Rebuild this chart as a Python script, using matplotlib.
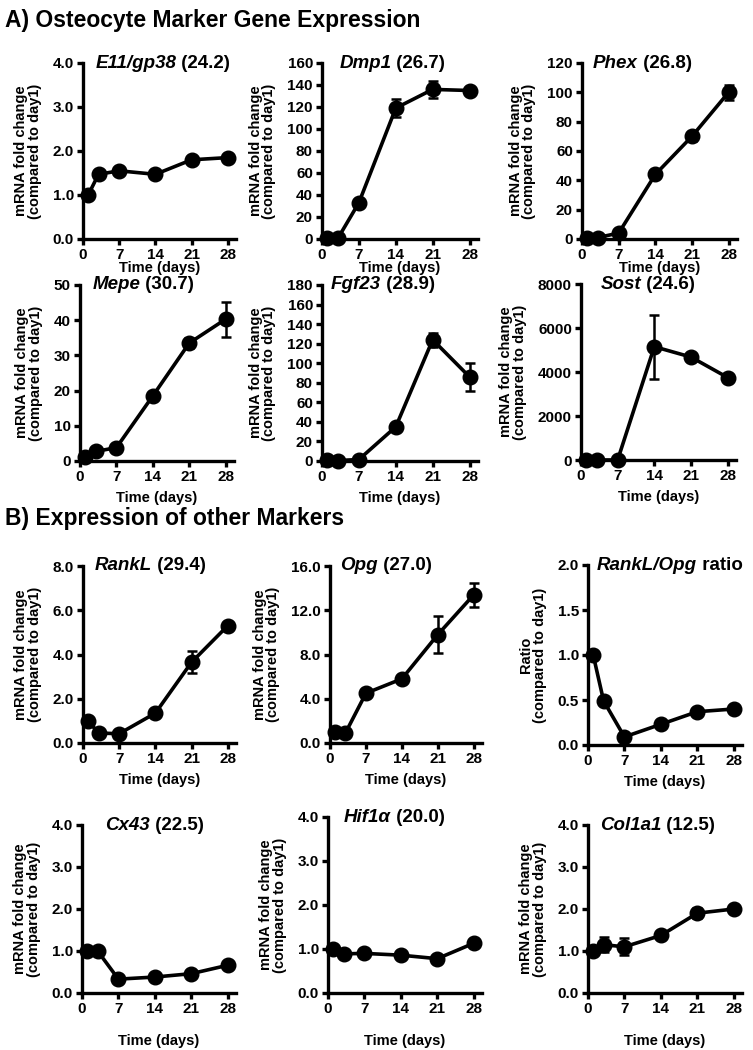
import matplotlib
matplotlib.use("Agg")
import matplotlib.pyplot as plt
from matplotlib.ticker import FormatStrFormatter

plt.rcParams["font.family"] = "Liberation Sans"
plt.rcParams["font.weight"] = "bold"

days = [1, 3, 7, 14, 21, 28]

# A) osteocyte markers
e11 = [1.0, 1.47, 1.55, 1.47, 1.8, 1.85]
e11_err = [0, 0, 0, 0, 0, 0]
dmp1 = [1, 0.5, 33, 119, 136, 135]
dmp1_err = [0, 0, 0, 8, 8, 0]
phex = [1, 1, 4, 44, 70, 100]
phex_err = [0, 0, 0, 0, 3, 5]
mepe = [1, 2.7, 3.8, 18.5, 33.5, 40.3]
mepe_err = [0, 0, 0, 0, 1.5, 5.0]
fgf23 = [1, 0.5, 1.5, 35, 124, 86]
fgf23_err = [0, 0, 0, 0, 7, 14]
sost = [1, 1, 2, 5150, 4680, 3750]
sost_err = [0, 0, 0, 1450, 0, 0]

# B) other markers
rankl = [1.0, 0.45, 0.42, 1.35, 3.65, 5.3]
rankl_err = [0, 0, 0, 0, 0.5, 0]
opg = [1.0, 0.9, 4.5, 5.8, 9.8, 13.4]
opg_err = [0, 0, 0, 0, 1.7, 1.1]
ratio = [1.0, 0.49, 0.09, 0.23, 0.37, 0.40]
ratio_err = [0, 0, 0, 0, 0, 0]
cx43 = [1.0, 1.0, 0.33, 0.38, 0.46, 0.66]
cx43_err = [0, 0, 0, 0, 0, 0]
hif1a = [1.0, 0.89, 0.9, 0.86, 0.78, 1.13]
hif1a_err = [0, 0, 0, 0, 0, 0]
col1a1 = [1.0, 1.15, 1.1, 1.37, 1.9, 2.0]
col1a1_err = [0, 0.18, 0.2, 0, 0.12, 0]

genes = ["E11/gp38", "Dmp1", "Phex", "Mepe", "Fgf23", "Sost",
         "RankL", "Opg", "RankL/Opg", "Cx43", "Hif1α", "Col1a1"]
suffixes = ["(24.2)", "(26.7)", "(26.8)", "(30.7)", "(28.9)", "(24.6)",
            "(29.4)", "(27.0)", "ratio", "(22.5)", "(20.0)", "(12.5)"]
values = [e11, dmp1, phex, mepe, fgf23, sost, rankl, opg, ratio, cx43, hif1a, col1a1]
errors = [e11_err, dmp1_err, phex_err, mepe_err, fgf23_err, sost_err,
          rankl_err, opg_err, ratio_err, cx43_err, hif1a_err, col1a1_err]
ymax = [4, 160, 120, 50, 180, 8000, 8, 16, 2, 4, 4, 4]
ystep = [1, 20, 20, 10, 20, 2000, 2, 4, 0.5, 1, 1, 1]
yfmt = ["%.1f", "%d", "%d", "%d", "%d", "%d", "%.1f", "%.1f", "%.1f", "%.1f", "%.1f", "%.1f"]
ylabels = ["mRNA fold change\n(compared to day1)"] * 12
ylabels[8] = "Ratio\n(compared to day1)"

# axes boxes in pixels: left, top, right, bottom
W, H = 753, 1050
boxes = [(83, 63, 236, 239), (322, 63, 478, 239), (582, 63, 737, 239),
         (80, 285, 234, 461), (322, 285, 478, 461), (581, 284, 736, 460),
         (83, 566, 236, 743), (330, 566, 482, 743), (588, 565, 742, 745),
         (82, 825, 236, 993), (328, 817, 482, 993), (588, 825, 742, 993)]
title_x = [0.52, 0.45, 0.39, 0.41, 0.39, 0.43, 0.44, 0.37, 0.53, 0.47, 0.43, 0.45]
xlabel_pad = [-1, -1, -1, 5, 5, 5, 5, 5, 5, 13, 13, 13]

fig = plt.figure(figsize=(W / 100, H / 100), dpi=100)
renderer = fig.canvas.get_renderer()

for i in range(12):
    l, t, r, b = boxes[i]
    ax = fig.add_axes([l / W, 1 - b / H, (r - l) / W, (b - t) / H])
    ax.errorbar(days, values[i], yerr=errors[i], color="black", lw=2.6,
                marker="o", ms=10.5, capsize=3.5, elinewidth=1.8, capthick=1.8,
                clip_on=False, zorder=5)
    ax.set_xlim(0, 29.6)
    ax.set_ylim(0, ymax[i])
    ax.set_xticks([0, 7, 14, 21, 28])
    n = int(round(ymax[i] / ystep[i]))
    ax.set_yticks([k * ystep[i] for k in range(n + 1)])
    ax.yaxis.set_major_formatter(FormatStrFormatter(yfmt[i]))
    for s in ["top", "right"]:
        ax.spines[s].set_visible(False)
    for s in ["left", "bottom"]:
        ax.spines[s].set_linewidth(2.4)
    ax.tick_params(direction="out", length=4, width=2.4, labelsize=11, pad=2.5)
    ax.set_xlabel("Time (days)", fontsize=10.5, fontweight="bold", labelpad=xlabel_pad[i])
    ax.set_ylabel(ylabels[i], fontsize=10.5, fontweight="bold", labelpad=8, linespacing=0.95)

    # title: italic gene name followed by upright Ct value
    t1 = ax.text(0, 1.0, genes[i], transform=ax.transAxes, ha="left", va="center",
                 fontsize=13.5, fontweight="bold", style="italic")
    t2 = ax.annotate(" " + suffixes[i], xy=(1, 0), xycoords=t1, ha="left", va="bottom",
                     fontsize=13.5, fontweight="bold")
    w = t1.get_window_extent(renderer).width + t2.get_window_extent(renderer).width
    t1.set_x(title_x[i] - w / 2 / (r - l))

fig.text(5 / W, 1 - 20 / H, "A) Osteocyte Marker Gene Expression",
         fontsize=16.5, fontweight="bold", va="center")
fig.text(5 / W, 1 - 518 / H, "B) Expression of other Markers",
         fontsize=16.5, fontweight="bold", va="center")

fig.savefig("out.png", dpi=100)
